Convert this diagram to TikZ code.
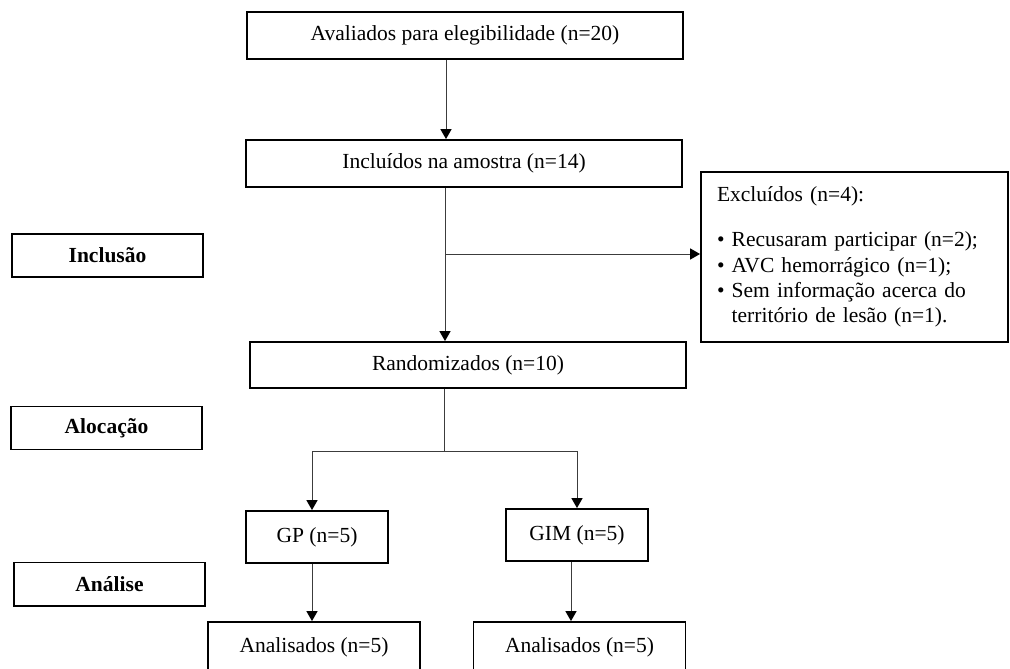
\documentclass[tikz,border=0pt]{standalone}
\usepackage{fontspec}
\setmainfont{Liberation Serif}
\usetikzlibrary{arrows.meta}
\definecolor{ink}{HTML}{000000}
\definecolor{wire}{HTML}{3C3C3C}
\tikzset{
  box/.style={draw=ink, fill=white, line width=1.4pt, inner sep=0pt,
    minimum width=109mm, minimum height=11.75mm, font=\fontsize{15.3}{18}\selectfont},
  tag/.style={box, minimum width=47.75mm, minimum height=10.75mm,
    font=\fontsize{15.3}{18}\selectfont\bfseries},
  arm/.style={box, minimum width=35.5mm, minimum height=13mm},
  res/.style={box, minimum width=53mm, minimum height=12.5mm},
  wire/.style={draw=wire, line width=0.7pt},
  conn/.style={wire, -{Triangle[length=2.5mm, width=2.8mm, color=ink]}},
}

\begin{document}
\begin{tikzpicture}[x=0.25mm, y=-0.25mm]
  \useasboundingbox (0,0) rectangle (1010,668);
  \clip (0,0) rectangle (1010,668);

  \node[box] (aval) at (465,35.5) {Avaliados para elegibilidade (n=20)};
  \node[box] (incl) at (464,163.5) {Incluídos na amostra (n=14)};
  \node[box, minimum height=11.5mm] (rand) at (468,365) {Randomizados (n=10)};
  \node[box, minimum width=0pt, minimum height=42.5mm, text width=68.75mm,
    inner xsep=4mm, align=left] (excl) at (854.5,257) {Excluídos (n=4):\\[14pt]
    \textbullet\,\,Recusaram participar (n=2);\\
    \textbullet\,\,AVC hemorrágico (n=1);\\
    \textbullet\,\,Sem informação acerca do\\
    \phantom{\textbullet\,\,}território de lesão (n=1).};

  \node[tag] (inclusao) at (107.5,255.5) {Inclusão};
  \node[tag] (alocacao) at (106.5,428) {Alocação};
  \node[tag] (analise) at (109.5,584) {Análise};

  \node[arm] (gp) at (317,537) {GP (n=5)};
  \node[arm] (gim) at (577,535) {GIM (n=5)};
  \node[res] (resgp) at (314,647) {Analisados (n=5)};
  \node[res] (resgim) at (579.5,647) {Analisados (n=5)};

  \coordinate (top) at (446,0);
  \coordinate (split) at (445,254);
  \coordinate (fork) at (444,451);
  \coordinate (left) at (312,451);
  \coordinate (right) at (577,451);
  \coordinate (down) at (571,0);

  \draw[conn] (aval.south -| top) -- (incl.north -| top);
  \draw[conn] (incl.south -| split) -- (rand.north -| split);
  \draw[conn] (split) -- (split -| excl.west);

  \draw[wire] (rand.south -| fork) -- (fork);
  \draw[wire] (left) -- (right);
  \draw[conn] (left) -- (left |- gp.north);
  \draw[conn] (right) -- (right |- gim.north);
  \draw[conn] (gp.south -| left) -- (resgp.north -| left);
  \draw[conn] (gim.south -| down) -- (resgim.north -| down);
\end{tikzpicture}
\end{document}
